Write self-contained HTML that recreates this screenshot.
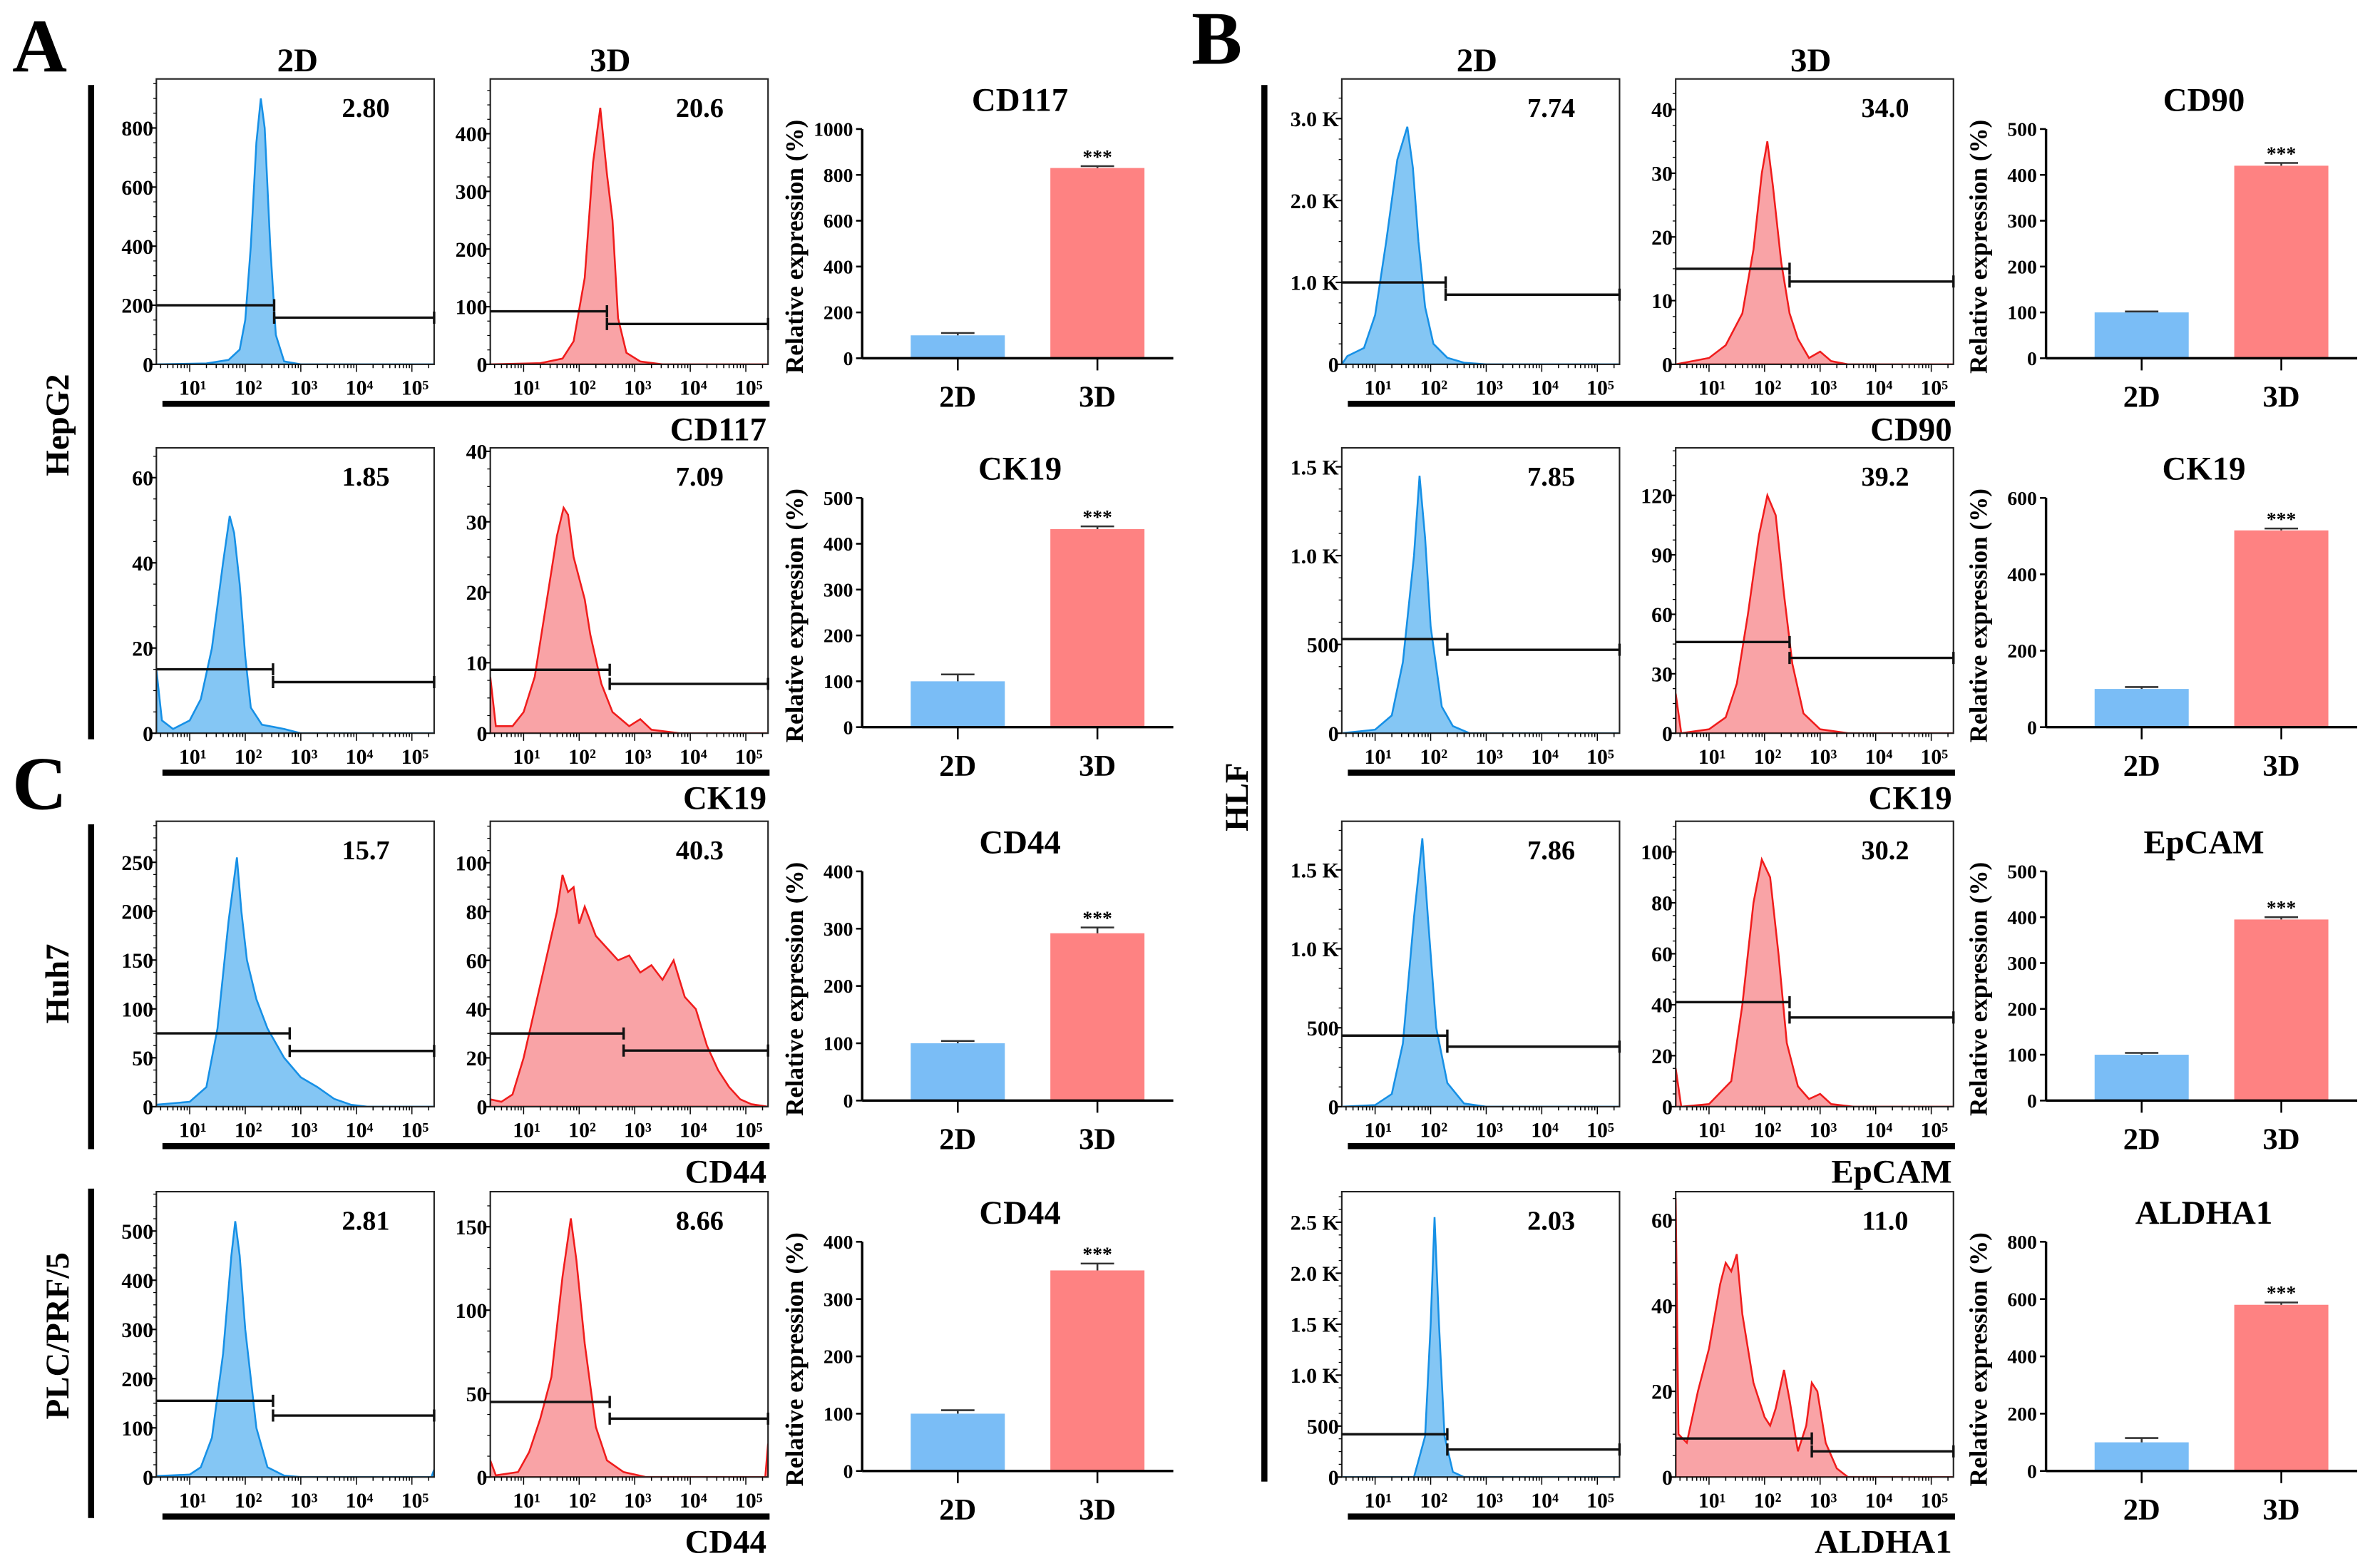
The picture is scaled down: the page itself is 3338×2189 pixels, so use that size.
<!DOCTYPE html>
<html><head><meta charset="utf-8"><style>
html,body{margin:0;padding:0;background:#fff;}
svg{display:block;}
text{font-family:"Liberation Serif",serif;font-weight:bold;fill:#000;}
</style></head><body>
<svg id="fig" xmlns="http://www.w3.org/2000/svg" width="3338" height="2189" viewBox="0 0 1568 1028.3">
<rect width="1568" height="1029" fill="#fff"/>
<g id="static">
<text x="8" y="47" font-size="50">A</text>
<text x="785" y="42" font-size="50">B</text>
<text x="8" y="533" font-size="50">C</text>
<text x="196" y="47" font-size="22" text-anchor="middle">2D</text>
<text x="402" y="47" font-size="22" text-anchor="middle">3D</text>
<text x="973" y="47" font-size="22" text-anchor="middle">2D</text>
<text x="1193" y="47" font-size="22" text-anchor="middle">3D</text>
<rect x="58" y="56" width="4" height="431"/>
<rect x="58" y="543" width="4" height="214"/>
<rect x="58" y="783" width="4" height="217"/>
<rect x="831" y="56" width="4" height="920"/>
<text font-size="22" text-anchor="middle" transform="translate(45,280) rotate(-90)">HepG2</text>
<text font-size="22" text-anchor="middle" transform="translate(45,648) rotate(-90)">Huh7</text>
<text font-size="22" text-anchor="middle" transform="translate(45,880) rotate(-90)">PLC/PRF/5</text>
<text font-size="22" text-anchor="middle" transform="translate(822,525) rotate(-90)">HLF</text>
</g>
</svg>
<script>
// ---------- histogram data (log10 fluorescence, count) ----------
const hA1_2D=[[0.4,0],[1.3,3],[1.7,15],[1.9,50],[2.0,150],[2.1,400],[2.2,750],[2.28,900],[2.35,800],[2.45,400],[2.55,100],[2.7,10],[3,0],[5.4,0]];
const hA1_3D=[[0.4,0],[1.3,2],[1.7,10],[1.9,40],[2.1,150],[2.25,350],[2.38,445],[2.5,330],[2.6,250],[2.7,80],[2.85,20],[3.1,5],[3.5,0],[5.4,0]];
const hA2_2D=[[0.4,15],[0.5,3],[0.7,1],[1,3],[1.2,8],[1.4,20],[1.6,40],[1.72,51],[1.8,47],[1.9,35],[2.0,18],[2.1,6],[2.3,2],[2.7,1],[3,0],[5.4,0]];
const hA2_3D=[[0.4,8],[0.5,1],[0.8,1],[1.0,3],[1.2,8],[1.4,18],[1.6,28],[1.72,32],[1.8,31],[1.9,25],[2.0,22],[2.1,19],[2.2,14],[2.4,7],[2.6,3],[2.9,1],[3.1,2],[3.3,0.5],[3.8,0],[5.4,0]];
const hC1_2D=[[0.4,2],[1,5],[1.3,20],[1.5,80],[1.7,190],[1.85,255],[1.93,200],[2.03,150],[2.2,110],[2.4,80],[2.7,50],[3,30],[3.3,20],[3.6,8],[3.9,2],[4.2,0],[5.4,0]];
const hC1_3D=[[0.4,3],[0.6,2],[0.8,5],[1,20],[1.2,40],[1.4,60],[1.6,80],[1.7,95],[1.8,88],[1.9,90],[2.0,75],[2.1,82],[2.3,70],[2.5,65],[2.7,60],[2.9,62],[3.1,55],[3.3,58],[3.5,52],[3.7,60],[3.9,45],[4.1,40],[4.3,25],[4.5,15],[4.7,8],[4.9,3],[5.1,1],[5.4,0]];
const hC2_2D=[[0.4,2],[1,5],[1.2,20],[1.4,80],[1.6,250],[1.75,450],[1.82,520],[1.9,450],[2.0,300],[2.2,100],[2.4,20],[2.7,3],[3,0],[5.35,0],[5.4,15]];
const hC2_3D=[[0.4,10],[0.5,1],[0.9,3],[1.1,15],[1.3,35],[1.5,60],[1.7,120],[1.85,155],[1.95,130],[2.1,80],[2.3,30],[2.5,10],[2.8,3],[3.2,0],[5.35,0],[5.4,20]];
const hB1_2D=[[0.4,0],[0.5,100],[0.8,200],[1.0,600],[1.2,1500],[1.4,2500],[1.58,2900],[1.68,2400],[1.78,1500],[1.9,700],[2.05,250],[2.3,80],[2.6,20],[3,0],[5.4,0]];
const hB1_3D=[[0.4,0],[1,1],[1.3,3],[1.6,8],[1.8,18],[1.95,30],[2.05,35],[2.15,28],[2.3,16],[2.45,8],[2.6,4],[2.8,1],[3.0,2],[3.2,0.5],[3.5,0],[5.4,0]];
const hB2_2D=[[0.4,0],[1,20],[1.3,100],[1.5,400],[1.7,1000],[1.8,1450],[1.9,1100],[2.0,600],[2.2,150],[2.4,40],[2.7,0],[5.4,0]];
const hB2_3D=[[0.4,20],[0.5,0],[1,2],[1.3,8],[1.5,25],[1.7,60],[1.9,100],[2.05,120],[2.2,110],[2.35,70],[2.5,35],[2.7,10],[3.0,2],[3.5,0],[5.4,0]];
const hB3_2D=[[0.4,0],[1,10],[1.3,80],[1.5,400],[1.7,1200],[1.85,1700],[1.95,1200],[2.1,500],[2.3,150],[2.6,20],[3,0],[5.4,0]];
const hB3_3D=[[0.4,15],[0.5,0],[1,1],[1.4,10],[1.6,40],[1.8,80],[1.95,97],[2.1,90],[2.25,60],[2.4,25],[2.6,8],[2.8,3],[3.0,5],[3.2,1],[3.6,0],[5.4,0]];
const hB4_2D=[[0.4,0],[1.7,0],[1.8,200],[1.9,400],[2.0,1500],[2.07,2550],[2.15,1500],[2.25,400],[2.4,50],[2.6,0],[5.4,0]];
const hB4_3D=[[0.4,65],[0.45,10],[0.6,8],[0.8,20],[1.0,30],[1.2,45],[1.3,50],[1.4,48],[1.5,52],[1.6,38],[1.8,22],[2.0,14],[2.1,12],[2.2,16],[2.35,25],[2.45,18],[2.6,6],[2.75,12],[2.85,22],[2.95,20],[3.1,8],[3.3,2],[3.5,0],[5.4,0]];

const histSeries=[hA1_2D,hA1_3D,hA2_2D,hA2_3D,hC1_2D,hC1_3D,hC2_2D,hC2_3D,hB1_2D,hB1_3D,hB2_2D,hB2_3D,hB3_2D,hB3_3D,hB4_2D,hB4_3D];
const histPanel=['A','A','A','A','A','A','A','A','B','B','B','B','B','B','B','B'];
const histRow=[0,0,1,1,2,2,3,3,0,0,1,1,2,2,3,3];
const histKind=['2D','3D','2D','3D','2D','3D','2D','3D','2D','3D','2D','3D','2D','3D','2D','3D'];
const histYMax=[966,495,67,40.5,292,117,580,171,3484,44.8,1607,144,1808,112,2800,66.6];
const histTicks=[[0,200,400,600,800],[0,100,200,300,400],[0,20,40,60],[0,10,20,30,40],[0,50,100,150,200,250],[0,20,40,60,80,100],[0,100,200,300,400,500],[0,50,100,150],[0,1000,2000,3000],[0,10,20,30,40],[0,500,1000,1500],[0,30,60,90,120],[0,500,1000,1500],[0,20,40,60,80,100],[0,500,1000,1500,2000,2500],[0,20,40,60]];
const histTickLabels=[["0","200","400","600","800"],["0","100","200","300","400"],["0","20","40","60"],["0","10","20","30","40"],["0","50","100","150","200","250"],["0","20","40","60","80","100"],["0","100","200","300","400","500"],["0","50","100","150"],["0","1.0 K","2.0 K","3.0 K"],["0","10","20","30","40"],["0","500","1.0 K","1.5 K"],["0","30","60","90","120"],["0","500","1.0 K","1.5 K"],["0","20","40","60","80","100"],["0","500","1.0 K","1.5 K","2.0 K","2.5 K"],["0","20","40","60"]];
const gateLog=[2.52,2.5,2.5,2.55,2.8,2.8,2.5,2.55,2.27,2.45,2.3,2.45,2.3,2.45,2.3,2.85];
const gateLeft=[200,92,15,9,75,30,155,45,1000,15,530,46,450,41,420,9];
const gateRight=[158,70,12,7,57,23,125,35,850,13,470,38,380,35,270,6];
const histPct=["2.80","20.6","1.85","7.09","15.7","40.3","2.81","8.66","7.74","34.0","7.85","39.2","7.86","30.2","2.03","11.0"];

// ---------- bar chart data ----------
const barPanel=['A','A','A','A','B','B','B','B'];
const barRow=[0,1,2,3,0,1,2,3];
const barTitles=["CD117","CK19","CD44","CD44","CD90","CK19","EpCAM","ALDHA1"];
const barCategories=["2D","3D"];
const bar2D=[100,100,100,100,100,100,100,100];
const bar3D=[830,432,292,350,420,515,395,580];
const err2D=[10,15,4,6,2,5,4,15];
const err3D=[8,6,10,12,6,5,5,8];
const barTicks=[[0,200,400,600,800,1000],[0,100,200,300,400,500],[0,100,200,300,400],[0,100,200,300,400],[0,100,200,300,400,500],[0,200,400,600],[0,100,200,300,400,500],[0,200,400,600,800]];
const markerLabels=["CD117","CK19","CD44","CD44","CD90","CK19","EpCAM","ALDHA1"];

// ---------- drawing ----------
const NS="http://www.w3.org/2000/svg";
const svg=document.getElementById('fig');
const rowOff=[0,243,489,733];
function mk(tag,attrs,parent){const e=document.createElementNS(NS,tag);for(const k in attrs)e.setAttribute(k,attrs[k]);(parent||svg).appendChild(e);return e;}
const LOG0=0.4,LOG1=5.4;
const sup=["","¹","²","³","⁴","⁵"];

for(let i=0;i<histSeries.length;i++){
  const dx=histPanel[i]==='B'?781:0;
  const left=(histKind[i]==='2D'?103:323)+dx, right=left+183;
  const top=52+rowOff[histRow[i]], bottom=240+rowOff[histRow[i]];
  const xs=l=>left+(l-LOG0)/(LOG1-LOG0)*(right-left);
  const ys=v=>bottom-v/histYMax[i]*(bottom-top);
  const blue=histKind[i]==='2D';
  const g=mk('g',{});
  
  
  const cid='clip'+i;
  const cp=mk('clipPath',{id:cid},g);mk('rect',{x:left,y:top,width:right-left,height:bottom-top},cp);
  let d='M'+xs(histSeries[i][0][0])+','+bottom;
  histSeries[i].forEach(p=>{d+=' L'+xs(p[0]).toFixed(2)+','+ys(p[1]).toFixed(2);});
  d+=' L'+xs(histSeries[i][histSeries[i].length-1][0])+','+bottom+' Z';
  const area=mk('path',{d:d,fill:blue?'#84c6f4':'#f9a3a6',stroke:blue?'#1690e6':'#f01c1c','stroke-width':1.2,'clip-path':'url(#'+cid+')'},g);
  
  
  const box=mk('rect',{x:left,y:top,width:right-left,height:bottom-top,fill:'none',stroke:'#222','stroke-width':1},g);
  
  
  histTicks[i].forEach((t,k)=>{
    const y=ys(t);
    mk('line',{x1:left-4,x2:left,y1:y,y2:y,stroke:'#000','stroke-width':1},g);
    const tx=mk('text',{x:left-2,y:y+5,'font-size':14,'text-anchor':'end'},g);tx.textContent=histTickLabels[i][k];
    
    
  });
  const step=(histTicks[i][1]-histTicks[i][0])/4;
  for(let v=0;v<=histYMax[i];v+=step){const y=ys(v);mk('line',{x1:left-2,x2:left,y1:y,y2:y,stroke:'#000','stroke-width':0.6},g);}
  for(let dcd=0;dcd<=5;dcd++){
    for(let m=1;m<10;m++){const l=dcd+Math.log10(m);if(l<LOG0||l>LOG1)continue;const x=xs(l);
      mk('line',{x1:x,x2:x,y1:bottom,y2:bottom+(m===1?5:2.5),stroke:'#000','stroke-width':0.7},g);}
    if(dcd>=1){const tx=mk('text',{x:xs(dcd)+2,y:bottom+20,'font-size':14,'text-anchor':'middle'},g);tx.textContent='10'+sup[dcd];
      
      }
  }
  const gx=xs(gateLog[i]),gl=ys(gateLeft[i]),gr=ys(gateRight[i]);
  const gate=mk('path',{d:`M${left},${gl} L${gx},${gl} M${gx},${gl-4} L${gx},${gl+4} M${gx},${gr} L${right},${gr} M${gx},${gr-4} L${gx},${gr+4} M${right},${gr-4} L${right},${gr+4}`,stroke:'#111','stroke-width':1.6,fill:'none'},g);
  
  
  const pt=mk('text',{x:right-45,y:top+25,'font-size':18,'text-anchor':'middle'},g);pt.textContent=histPct[i];
  
  
}

for(let i=0;i<barTitles.length;i++){
  const dx=barPanel[i]==='B'?780:0, off=rowOff[barRow[i]];
  const ax=568+dx, zero=236+off, topY=85+off;
  const maxV=barTicks[i][barTicks[i].length-1];
  const ys=v=>zero-v/maxV*(zero-topY);
  const cx=[631+dx,723+dx], bw=62;
  const g=mk('g',{});
  
  
  const tt=mk('text',{x:672+dx,y:73+off,'font-size':22,'text-anchor':'middle'},g);tt.textContent=barTitles[i];
  
  
  const yl=mk('text',{'font-size':16.5,'text-anchor':'middle',transform:`translate(${529+dx},${(zero+topY)/2+2}) rotate(-90)`},g);yl.textContent='Relative expression (%)';
  
  
  const vals=[bar2D[i],bar3D[i]], errs=[err2D[i],err3D[i]];
  vals.forEach((v,k)=>{
    const r=mk('rect',{x:cx[k]-bw/2,y:ys(v),width:bw,height:zero-ys(v),fill:k===0?'#7abdf6':'#fe8282'},g);
    
    
    const ye=ys(v+errs[k]);
    mk('path',{d:`M${cx[k]},${ys(v)} L${cx[k]},${ye} M${cx[k]-11},${ye} L${cx[k]+11},${ye}`,stroke:'#333','stroke-width':1.2,fill:'none'},g);
    const cl=mk('text',{x:cx[k],y:zero+32,'font-size':20,'text-anchor':'middle'},g);cl.textContent=barCategories[k];
    
    
    mk('line',{x1:cx[k],x2:cx[k],y1:zero,y2:zero+8,stroke:'#000','stroke-width':1.2},g);
  });
  const st=mk('text',{x:cx[1],y:ys(vals[1]+errs[1])-2,'font-size':13,'text-anchor':'middle'},g);st.textContent='***';
  
  
  mk('line',{x1:ax,x2:ax,y1:topY,y2:zero,stroke:'#000','stroke-width':1.6},g);
  mk('line',{x1:ax,x2:ax+205,y1:zero,y2:zero,stroke:'#000','stroke-width':1.6},g);
  barTicks[i].forEach(t=>{const y=ys(t);mk('line',{x1:ax-4,x2:ax,y1:y,y2:y,stroke:'#000','stroke-width':1.2},g);
    const tx=mk('text',{x:ax-6,y:y+4.5,'font-size':13,'text-anchor':'end'},g);tx.textContent=t;
    
    });
  const ux0=(dx?888:107), ux1=(dx?1288:507);
  const ul=mk('rect',{x:ux0,y:264+off,width:ux1-ux0,height:4},g);
  
  
  const ml=mk('text',{x:ux1-2,y:290+off,'font-size':22,'text-anchor':'end'},g);ml.textContent=markerLabels[i];
  
  
}
</script>
</body></html>
